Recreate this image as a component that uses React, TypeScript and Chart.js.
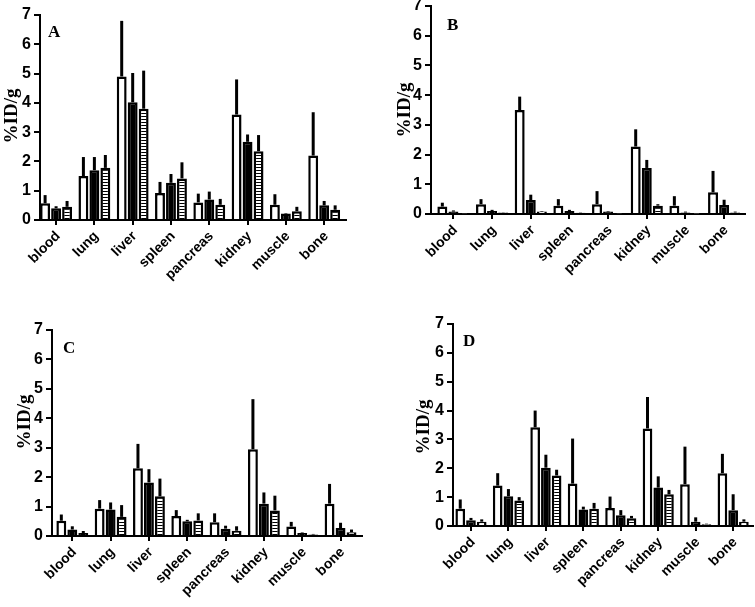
import React, { useEffect, useRef } from 'react';
import { Chart, registerables } from 'chart.js';
Chart.register(...registerables);

const categories = ['blood', 'lung', 'liver', 'spleen', 'pancreas', 'kidney', 'muscle', 'bone'];
const yTickValues = [0, 1, 2, 3, 4, 5, 6, 7];

// Panel A
const aWhite = [0.57, 1.5, 4.9, 0.92, 0.6, 3.6, 0.52, 2.2];
const aWhiteErr = [0.28, 0.65, 1.9, 0.38, 0.3, 1.2, 0.36, 1.48];
const aBlack = [0.4, 1.7, 4.02, 1.27, 0.7, 2.67, 0.22, 0.5];
const aBlackErr = [0.07, 0.45, 1.0, 0.3, 0.27, 0.25, 0.02, 0.15];
const aStriped = [0.45, 1.78, 3.8, 1.42, 0.52, 2.35, 0.3, 0.35];
const aStripedErr = [0.2, 0.44, 1.3, 0.55, 0.2, 0.55, 0.15, 0.15];

// Panel B
const bWhite = [0.25, 0.33, 3.5, 0.28, 0.33, 2.27, 0.28, 0.73];
const bWhiteErr = [0.13, 0.17, 0.45, 0.22, 0.44, 0.58, 0.32, 0.72];
const bBlack = [0.08, 0.1, 0.47, 0.1, 0.08, 1.55, 0.05, 0.3];
const bBlackErr = [0.04, 0.04, 0.18, 0.04, 0.02, 0.27, 0.03, 0.18];
const bStriped = [0.02, 0.05, 0.08, 0.04, 0.02, 0.28, 0.01, 0.05];
const bStripedErr = [0, 0.01, 0.02, 0.01, 0, 0.05, 0, 0.03];

// Panel C
const cWhite = [0.52, 0.93, 2.3, 0.68, 0.47, 2.95, 0.32, 1.1];
const cWhiteErr = [0.21, 0.29, 0.83, 0.2, 0.3, 1.7, 0.16, 0.67];
const cBlack = [0.22, 0.9, 1.82, 0.5, 0.25, 1.1, 0.1, 0.27];
const cBlackErr = [0.11, 0.24, 0.45, 0.05, 0.1, 0.38, 0.02, 0.18];
const cStriped = [0.1, 0.65, 1.35, 0.53, 0.18, 0.87, 0.05, 0.13];
const cStripedErr = [0.07, 0.4, 0.6, 0.24, 0.15, 0.5, 0.02, 0.09];

// Panel D
const dWhite = [0.6, 1.4, 3.42, 1.47, 0.62, 3.38, 1.45, 1.83];
const dWhiteErr = [0.32, 0.43, 0.58, 1.56, 0.4, 1.09, 1.3, 0.67];
const dBlack = [0.2, 1.03, 2.02, 0.57, 0.37, 1.33, 0.15, 0.55];
const dBlackErr = [0.08, 0.25, 0.45, 0.1, 0.18, 0.39, 0.15, 0.55];
const dStriped = [0.15, 0.88, 1.75, 0.6, 0.27, 1.1, 0.06, 0.15];
const dStripedErr = [0.08, 0.12, 0.2, 0.2, 0.08, 0.15, 0.02, 0.08];

const SANS = '"Liberation Sans", Arial, sans-serif';
const SERIF = '"Liberation Serif", "Times New Roman", serif';

type Rect = { left: number; top: number; width: number; height: number };
type Area = { l: number; t: number; r: number; b: number };

type PanelProps = {
  letter: string;
  white: number[]; whiteErr: number[];
  black: number[]; blackErr: number[];
  striped: number[]; stripedErr: number[];
  rect: Rect; area: Area; xMin: number; xMax: number;
  titleX: number; titleY: number; letterX: number; letterY: number;
};

function Panel(p: PanelProps) {
  const ref = useRef<HTMLCanvasElement | null>(null);
  useEffect(() => {
    const canvas = ref.current!;
    const ctx = canvas.getContext('2d')!;
    const pc = document.createElement('canvas');
    pc.width = 4; pc.height = 3;
    const g = pc.getContext('2d')!;
    g.fillStyle = '#fff'; g.fillRect(0, 0, 4, 3);
    g.fillStyle = '#000'; g.fillRect(0, 0, 4, 1);
    const stripe = ctx.createPattern(pc, 'repeat');

    const toPts = (arr: number[]) => arr.map((v, i) => ({ x: i, y: v }));
    const { rect, area } = p;

    const errPlugin = {
      id: 'errAndText',
      afterDatasetsDraw(chart: any) {
        const c = chart.ctx;
        const ys = chart.scales.y;
        chart.data.datasets.forEach((ds: any, di: number) => {
          const meta = chart.getDatasetMeta(di);
          meta.data.forEach((bar: any, i: number) => {
            const v = ds.data[i].y;
            const e = ds.errors[i];
            if (!e) return;
            c.save();
            c.strokeStyle = '#000';
            c.lineWidth = 3;
            c.beginPath();
            c.moveTo(bar.x, ys.getPixelForValue(v));
            c.lineTo(bar.x, ys.getPixelForValue(v + e));
            c.stroke();
            c.restore();
          });
        });
      },
      afterDraw(chart: any) {
        const c = chart.ctx;
        const xs = chart.scales.x;
        const bottom = chart.chartArea.bottom;
        c.save();
        c.fillStyle = '#000';
        // category labels, rotated 45 degrees
        c.font = `bold 14px ${SANS}`;
        c.textAlign = 'right';
        c.textBaseline = 'middle';
        categories.forEach((name, i) => {
          const x = xs.getPixelForValue(i);
          c.save();
          c.translate(x + 2, bottom + 14);
          c.rotate(-Math.PI / 4);
          c.fillText(name, 0, 0);
          c.restore();
        });
        // panel letter
        c.font = `bold 17px ${SERIF}`;
        c.textAlign = 'left';
        c.textBaseline = 'alphabetic';
        c.fillText(p.letter, p.letterX - rect.left, p.letterY - rect.top);
        // y axis title
        c.translate(p.titleX - rect.left, p.titleY - rect.top);
        c.rotate(-Math.PI / 2);
        c.font = `bold 19px ${SERIF}`;
        c.textAlign = 'center';
        c.textBaseline = 'middle';
        c.fillText('%ID/g', 0, 0);
        c.restore();
      },
    };

    const chart = new Chart(canvas, {
      type: 'bar',
      data: {
        datasets: [
          { data: toPts(p.white), errors: p.whiteErr, backgroundColor: '#fff', borderColor: '#000', borderWidth: 2.5 } as any,
          { data: toPts(p.black), errors: p.blackErr, backgroundColor: '#000', borderColor: '#000', borderWidth: 2.5 } as any,
          { data: toPts(p.striped), errors: p.stripedErr, backgroundColor: stripe, borderColor: '#000', borderWidth: 2.5 } as any,
        ],
      },
      options: {
        animation: false,
        responsive: false,
        devicePixelRatio: 1,
        categoryPercentage: 0.86,
        barPercentage: 0.9,
        layout: { padding: { top: area.t - rect.top, right: rect.left + rect.width - area.r, left: 0, bottom: 0 } },
        plugins: { legend: { display: false }, tooltip: { enabled: false } },
        scales: {
          x: {
            type: 'linear',
            min: p.xMin,
            max: p.xMax,
            offset: false,
            afterBuildTicks: (s: any) => { s.ticks = categories.map((_, i) => ({ value: i })); },
            afterFit: (s: any) => { s.height = rect.top + rect.height - area.b; },
            grid: { offset: false, drawOnChartArea: false, drawTicks: true, tickLength: 5, color: '#000', lineWidth: 2 },
            border: { display: true, color: '#000', width: 2 },
            ticks: { display: false },
          },
          y: {
            min: 0,
            max: 7,
            afterBuildTicks: (s: any) => { s.ticks = yTickValues.map((v) => ({ value: v })); },
            afterFit: (s: any) => { s.width = area.l - rect.left; },
            grid: { drawOnChartArea: false, drawTicks: true, tickLength: 6, color: '#000', lineWidth: 2 },
            border: { display: true, color: '#000', width: 2 },
            ticks: { padding: 3, color: '#000', font: { family: SANS, size: 16, weight: 'bold' } },
          },
        },
      } as any,
      plugins: [errPlugin],
    });
    return () => chart.destroy();
  }, []);
  return (
    <canvas
      ref={ref}
      width={p.rect.width}
      height={p.rect.height}
      style={{ position: 'absolute', left: p.rect.left, top: p.rect.top, width: p.rect.width, height: p.rect.height }}
    />
  );
}

export default function App() {
  return (
    <div style={{ position: 'absolute', left: 0, top: 0, width: 755, height: 607, overflow: 'hidden', background: '#fff' }}>
      <Panel
        letter="A" white={aWhite} whiteErr={aWhiteErr} black={aBlack} blackErr={aBlackErr} striped={aStriped} stripedErr={aStripedErr}
        rect={{ left: 0, top: -10, width: 377, height: 310 }} area={{ l: 40, t: 15, r: 346, b: 220 }}
        xMin={-0.42} xMax={7.57} titleX={12} titleY={116} letterX={48} letterY={37}
      />
      <Panel
        letter="B" white={bWhite} whiteErr={bWhiteErr} black={bBlack} blackErr={bBlackErr} striped={bStriped} stripedErr={bStripedErr}
        rect={{ left: 377, top: -20, width: 378, height: 320 }} area={{ l: 431, t: 6, r: 745, b: 214 }}
        xMin={-0.58} xMax={7.54} titleX={405} titleY={110} letterX={447} letterY={30}
      />
      <Panel
        letter="C" white={cWhite} whiteErr={cWhiteErr} black={cBlack} blackErr={cBlackErr} striped={cStriped} stripedErr={cStripedErr}
        rect={{ left: 0, top: 300, width: 377, height: 307 }} area={{ l: 52, t: 330, r: 362, b: 536 }}
        xMin={-0.53} xMax={7.56} titleX={25} titleY={422} letterX={63} letterY={353}
      />
      <Panel
        letter="D" white={dWhite} whiteErr={dWhiteErr} black={dBlack} blackErr={dBlackErr} striped={dStriped} stripedErr={dStripedErr}
        rect={{ left: 377, top: 300, width: 378, height: 307 }} area={{ l: 453, t: 324, r: 753, b: 526 }}
        xMin={-0.48} xMax={7.53} titleX={424} titleY={427} letterX={463} letterY={346}
      />
    </div>
  );
}
